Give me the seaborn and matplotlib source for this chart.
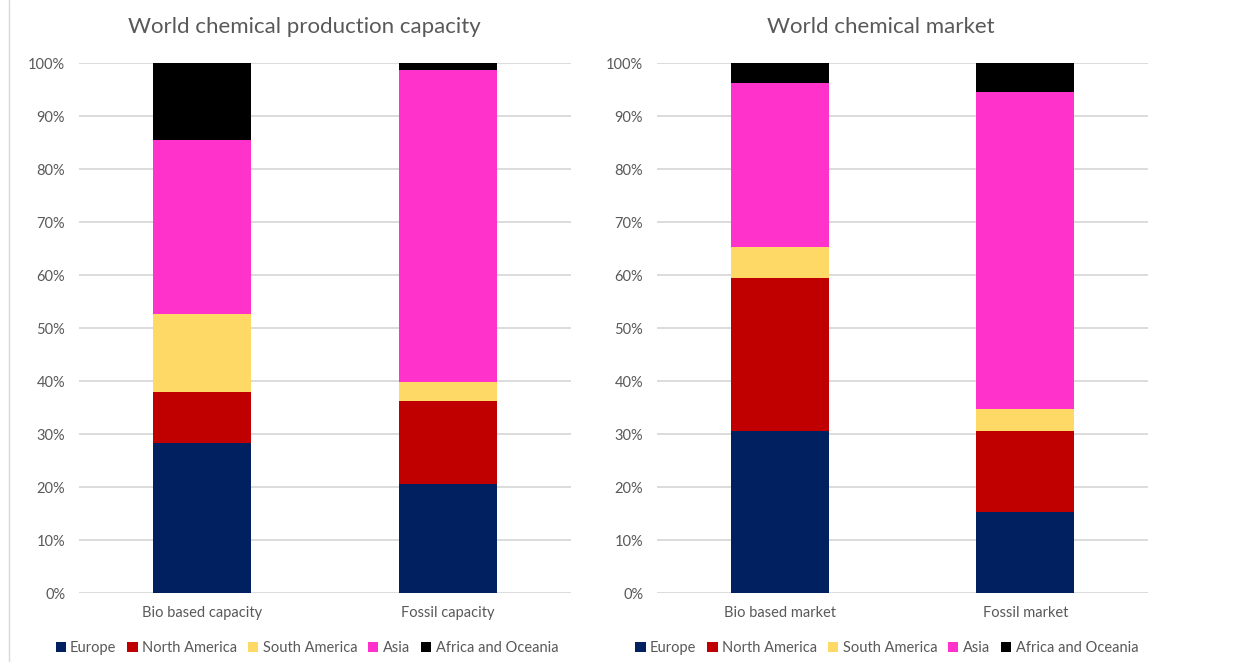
import matplotlib.pyplot as plt
import matplotlib.ticker as mticker
import numpy as np
import pandas as pd
import seaborn as sns

regions = ["Europe", "North America", "South America", "Asia", "Africa and Oceania"]
colors = ["#002060", "#C00000", "#FFD966", "#FF33CC", "#000000"]

capacity_labels = ["Bio based capacity", "Fossil capacity"]
capacity_europe = [28.4, 20.6]
capacity_north_america = [9.6, 15.6]
capacity_south_america = [14.6, 3.6]
capacity_asia = [32.8, 58.9]
capacity_africa_oceania = [14.6, 1.3]

market_labels = ["Bio based market", "Fossil market"]
market_europe = [30.6, 15.3]
market_north_america = [28.8, 15.3]
market_south_america = [5.8, 4.2]
market_asia = [31.0, 59.7]
market_africa_oceania = [3.8, 5.5]

sns.set_theme(style="white")
plt.rcParams["font.family"] = ["Lato", "DejaVu Sans"]

GRID = "#d9d9d9"
TEXT = "#595959"
SMALL = 10.5


def stacked(ax, labels, layers, title, title_x, legend_x):
    # cumulative share for each layer, drawn from the top layer down
    df = pd.DataFrame({"cat": labels})
    cum = np.cumsum(np.array(layers), axis=0) / 100.0
    for i in range(len(regions) - 1, -1, -1):
        df["val"] = cum[i]
        sns.barplot(data=df, x="cat", y="val", color=colors[i], label=regions[i],
                    width=0.4, saturation=1, linewidth=0, ax=ax)
    ax.set_ylim(0, 1)
    ax.yaxis.set_major_locator(mticker.MultipleLocator(0.1))
    ax.yaxis.set_major_formatter(mticker.PercentFormatter(1.0, decimals=0))
    ax.grid(True, axis="y", color=GRID, linewidth=1.3)
    ax.set_axisbelow(True)
    for s in ax.spines.values():
        s.set_visible(False)
    ax.tick_params(axis="y", length=0, pad=10, labelsize=SMALL, labelcolor=TEXT)
    ax.tick_params(axis="x", length=0, pad=9, labelsize=SMALL, labelcolor=TEXT)
    ax.set_xlabel("")
    ax.set_ylabel("")
    ax.text(title_x, 1.068, title, transform=ax.transAxes, ha="center", va="center",
            fontsize=16, color=TEXT)
    h, l = ax.get_legend_handles_labels()
    ax.legend(h[::-1], l[::-1], loc="center", bbox_to_anchor=(legend_x, -0.104), ncol=5,
              frameon=False, fontsize=SMALL, labelcolor=TEXT, handlelength=0.7,
              handleheight=0.7, handletextpad=0.3, columnspacing=0.75)


fig = plt.figure(figsize=(12.43, 6.62), dpi=100)
ax1 = fig.add_axes([0.0636, 0.1042, 0.3958, 0.8006])
ax2 = fig.add_axes([0.5286, 0.1042, 0.3950, 0.8006])

stacked(ax1, capacity_labels,
        [capacity_europe, capacity_north_america, capacity_south_america,
         capacity_asia, capacity_africa_oceania],
        "World chemical production capacity", 0.459, 0.463)
stacked(ax2, market_labels,
        [market_europe, market_north_america, market_south_america,
         market_asia, market_africa_oceania],
        "World chemical market", 0.456, 0.468)

# faint chart-area border on the far left
fig.add_artist(plt.Line2D([0.0075, 0.0075], [0.0, 1.0], color=GRID, linewidth=1))

fig.savefig("out.png", dpi=100, facecolor="white")
